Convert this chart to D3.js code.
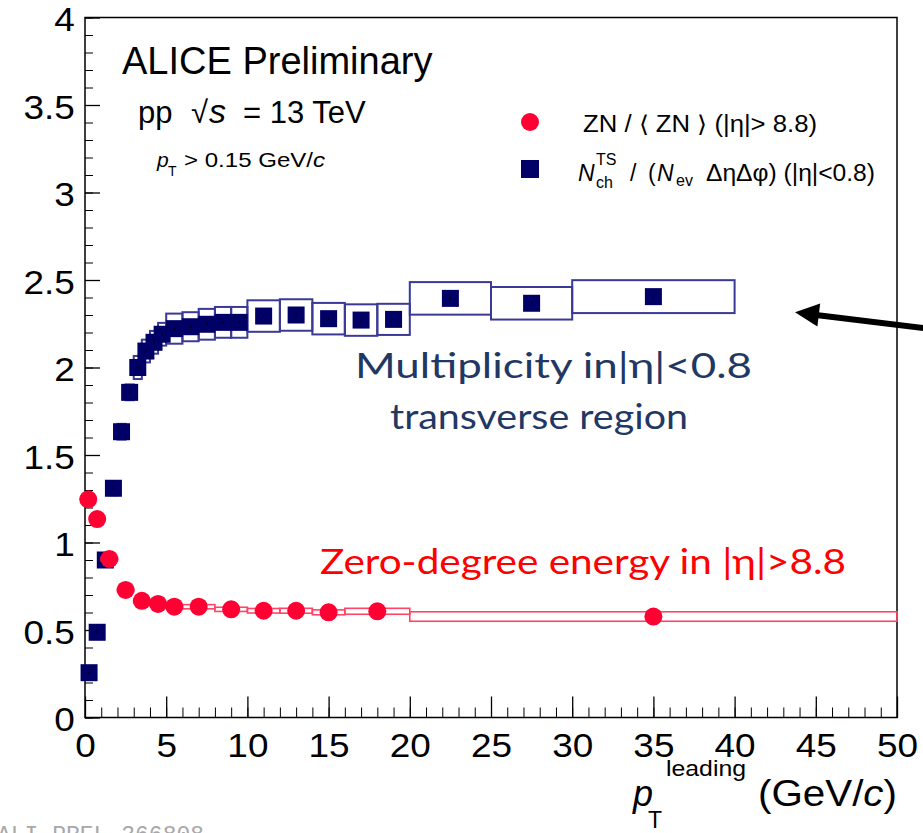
<!DOCTYPE html>
<html>
<head>
<meta charset="utf-8">
<script src="https://cdn.jsdelivr.net/npm/d3@7/dist/d3.min.js"></script>
<style>
  body { margin: 0; background: #fff; }
  svg { display: block; font-family: "Liberation Sans", Arial, sans-serif; }
</style>
</head>
<body>
<div id="chart"></div>
<script>
// ZN / <ZN>  (|eta| > 8.8), red circles
const znX   = [0.2, 0.75, 1.5, 2.5, 3.5, 4.5, 5.5, 7, 9, 11, 13, 15, 18, 35];
const znY   = [1.247, 1.134, 0.906, 0.729, 0.667, 0.649, 0.633, 0.633, 0.618, 0.61, 0.61, 0.601, 0.607, 0.577];
const znSys = [0.01, 0.01, 0.01, 0.01, 0.01, 0.01, 0.01, 0.012, 0.012, 0.013, 0.014, 0.014, 0.017, 0.027];
const znLo  = [0, 0.5, 1, 2, 3, 4, 5, 6, 8, 10, 12, 14, 16, 20];
const znHi  = [0.5, 1, 2, 3, 4, 5, 6, 8, 10, 12, 14, 16, 20, 50];

// Nch TS / (Nev deta dphi)  (|eta| < 0.8), navy squares
const nchX   = [0.25, 0.75, 1.25, 1.75, 2.25, 2.75, 3.25, 3.75, 4.25, 4.75, 5.5, 6.5, 7.5, 8.5, 9.5, 11, 13, 15, 17, 19, 22.5, 27.5, 35];
const nchY   = [0.256, 0.487, 0.90, 1.31, 1.633, 1.858, 2.00, 2.094, 2.144, 2.19, 2.222, 2.233, 2.247, 2.258, 2.258, 2.294, 2.30, 2.279, 2.271, 2.275, 2.395, 2.367, 2.405];
const nchSys = [0.01, 0.02, 0.03, 0.04, 0.045, 0.045, 0.066, 0.065, 0.065, 0.065, 0.086, 0.083, 0.088, 0.088, 0.088, 0.09, 0.09, 0.09, 0.09, 0.089, 0.093, 0.093, 0.094];
const nchLo  = [0, 0.5, 1, 1.5, 2, 2.5, 3, 3.5, 4, 4.5, 5, 6, 7, 8, 9, 10, 12, 14, 16, 18, 20, 25, 30];
const nchHi  = [0.5, 1, 1.5, 2, 2.5, 3, 3.5, 4, 4.5, 5, 6, 7, 8, 9, 10, 12, 14, 16, 18, 20, 25, 30, 40];

// tick labels
const xTicks = [0, 5, 10, 15, 20, 25, 30, 35, 40, 45, 50];
const yTicks = [0, 0.5, 1, 1.5, 2, 2.5, 3, 3.5, 4];

const margin = {top: 17.5, left: 85},
    width = 812,
    height = 700;

const red = "#ff0033", redBox = "#ff4466",
      navy = "#000066", navyBox = "#3a3a96";
const sx = 1.12; // ROOT text is a bit wide

const svg = d3.select("#chart")
  .append("svg")
    .attr("width", 923)
    .attr("height", 833);

const g = svg.append("g")
    .attr("transform", `translate(${margin.left},${margin.top})`);

const x = d3.scaleLinear().domain([0, 50]).range([0, width]);
const y = d3.scaleLinear().domain([0, 4]).range([height, 0]);

// frame
g.append("rect")
  .attr("width", width).attr("height", height)
  .attr("fill", "none").attr("stroke", "#000").attr("stroke-width", 1.5);

// minor ticks
g.append("g")
  .attr("transform", `translate(0,${height})`)
  .call(d3.axisBottom(x).tickValues(d3.range(0, 51, 1)).tickSize(-10).tickFormat(""))
  .call(a => a.select(".domain").remove());
g.append("g")
  .call(d3.axisLeft(y).tickValues(d3.range(0, 41, 1).map(d => d / 10)).tickSize(-8).tickFormat(""))
  .call(a => a.select(".domain").remove());

// major ticks + labels
const xAxis = g.append("g")
  .attr("transform", `translate(0,${height})`)
  .call(d3.axisBottom(x).tickValues(xTicks).tickSize(-21).tickPadding(16).tickFormat(d3.format("")))
  .call(a => a.select(".domain").remove());
const yAxis = g.append("g")
  .call(d3.axisLeft(y).tickValues(yTicks).tickSize(-15).tickPadding(9).tickFormat(d3.format("")))
  .call(a => a.select(".domain").remove());

[xAxis, yAxis].forEach(ax => {
  ax.selectAll("line").attr("stroke", "#000").attr("stroke-width", 1.3);
  ax.selectAll("text")
    .attr("fill", "#000")
    .style("font-family", "'Liberation Sans', Arial, sans-serif")
    .style("font-size", "33px")
    .attr("transform", `scale(${sx},1)`);
});
yAxis.selectAll("text").attr("dy", "0.4em");
g.selectAll(".tick line").attr("stroke", "#000");

// Nch boxes (systematics)
g.append("g")
  .selectAll("rect")
  .data(nchX.map((d, i) => i))
  .join("rect")
    .attr("x", i => x(nchLo[i]))
    .attr("width", i => x(nchHi[i]) - x(nchLo[i]))
    .attr("y", i => y(nchY[i] + nchSys[i]))
    .attr("height", i => y(nchY[i] - nchSys[i]) - y(nchY[i] + nchSys[i]))
    .attr("fill", "none")
    .attr("stroke", navyBox)
    .attr("stroke-width", 2);

// Nch markers
g.append("g")
  .selectAll("rect")
  .data(nchX.map((d, i) => i))
  .join("rect")
    .attr("x", i => x(nchX[i]) - 8.5)
    .attr("y", i => y(nchY[i]) - 8.5)
    .attr("width", 17)
    .attr("height", 17)
    .attr("fill", navy);

g.append("g")
  .selectAll("line")
  .data(nchX.map((d, i) => i))
  .join("line")
    .attr("x1", i => x(nchX[i])).attr("x2", i => x(nchX[i]))
    .attr("y1", i => y(nchY[i]) - 1.5).attr("y2", i => y(nchY[i]) + 1.5)
    .attr("stroke", "#000").attr("stroke-width", 1);

// ZN boxes
g.append("g")
  .selectAll("rect")
  .data(znX.map((d, i) => i))
  .join("rect")
    .attr("x", i => x(znLo[i]))
    .attr("width", i => x(znHi[i]) - x(znLo[i]))
    .attr("y", i => y(znY[i] + znSys[i]))
    .attr("height", i => y(znY[i] - znSys[i]) - y(znY[i] + znSys[i]))
    .attr("fill", "none")
    .attr("stroke", redBox)
    .attr("stroke-width", 1.6);

// ZN markers
g.append("g")
  .selectAll("circle")
  .data(znX.map((d, i) => i))
  .join("circle")
    .attr("cx", i => x(znX[i]))
    .attr("cy", i => y(znY[i]))
    .attr("r", 9)
    .attr("fill", red);

// header texts
svg.append("text")
  .attr("x", 122).attr("y", 74)
  .style("font-size", "38px")
  .text("ALICE Preliminary");

const pp = svg.append("text").attr("y", 123).style("font-size", "31px");
pp.append("tspan").attr("x", 138).text("pp");
pp.append("tspan").attr("x", 191).text("√");
pp.append("tspan").attr("x", 209).style("font-style", "italic").style("font-size", "34px").text("s");
pp.append("tspan").attr("x", 243).text("= 13 TeV");

svg.append("text").attr("x", 157).attr("y", 167)
  .style("font-size", "21px").style("font-style", "italic").text("p");
svg.append("text").attr("x", 168).attr("y", 176)
  .style("font-size", "14px").text("T");
const cut = svg.append("text").attr("x", 184).attr("y", 167)
  .style("font-size", "21px").attr("textLength", 141).attr("lengthAdjust", "spacingAndGlyphs");
cut.append("tspan").text("> 0.15 GeV/");
cut.append("tspan").style("font-style", "italic").text("c");

// legend
svg.append("circle").attr("cx", 530).attr("cy", 122).attr("r", 9).attr("fill", red);
svg.append("rect").attr("x", 521).attr("y", 160).attr("width", 18).attr("height", 18).attr("fill", navy);

svg.append("text").attr("x", 583).attr("y", 132)
  .style("font-size", "23px")
  .attr("textLength", 234).attr("lengthAdjust", "spacingAndGlyphs")
  .text("ZN / \u27E8 ZN \u27E9 (|η|> 8.8)");

svg.append("text").attr("x", 578).attr("y", 181)
  .style("font-size", "23px").style("font-style", "italic").text("N");
svg.append("text").attr("x", 596).attr("y", 165)
  .style("font-size", "16px").text("TS");
svg.append("text").attr("x", 596).attr("y", 188)
  .style("font-size", "16px").text("ch");
svg.append("text").attr("x", 630).attr("y", 181)
  .style("font-size", "23px").text("/");
svg.append("text").attr("x", 648).attr("y", 181)
  .style("font-size", "23px").text("(");
svg.append("text").attr("x", 657).attr("y", 181)
  .style("font-size", "23px").style("font-style", "italic").text("N");
svg.append("text").attr("x", 676).attr("y", 186)
  .style("font-size", "16px").text("ev");
svg.append("text").attr("x", 706).attr("y", 181)
  .style("font-size", "23px")
  .attr("textLength", 169).attr("lengthAdjust", "spacingAndGlyphs")
  .text("ΔηΔφ) (|η|<0.8)");

// x axis title
svg.append("text").attr("x", 633).attr("y", 806)
  .style("font-size", "36px").style("font-style", "italic").text("p");
svg.append("text").attr("x", 648).attr("y", 828)
  .style("font-size", "23px").text("T");
svg.append("text").attr("x", 666).attr("y", 776)
  .style("font-size", "22px")
  .attr("textLength", 80).attr("lengthAdjust", "spacingAndGlyphs")
  .text("leading");
const unit = svg.append("text").attr("x", 758).attr("y", 806)
  .style("font-size", "36px")
  .attr("textLength", 139).attr("lengthAdjust", "spacingAndGlyphs");
unit.append("tspan").text("(GeV/");
unit.append("tspan").style("font-style", "italic").text("c");
unit.append("tspan").text(")");

// slide annotations
svg.append("text").attr("x", 355).attr("y", 378)
  .style("font-family", "Lato, 'Open Sans', sans-serif").style("font-size", "34px")
  .attr("fill", "#1f3864")
  .attr("textLength", 397).attr("lengthAdjust", "spacingAndGlyphs")
  .text("Multiplicity in|η|<0.8");
svg.append("text").attr("x", 390).attr("y", 429)
  .style("font-family", "Lato, 'Open Sans', sans-serif").style("font-size", "34px")
  .attr("fill", "#1f3864")
  .attr("textLength", 298).attr("lengthAdjust", "spacingAndGlyphs")
  .text("transverse region");
svg.append("text").attr("x", 320).attr("y", 574)
  .style("font-family", "Lato, 'Open Sans', sans-serif").style("font-size", "35px")
  .attr("fill", "#ff0000")
  .attr("textLength", 526).attr("lengthAdjust", "spacingAndGlyphs")
  .text("Zero-degree energy in |η|>8.8");

// arrow
svg.append("line")
  .attr("x1", 935).attr("y1", 329.5).attr("x2", 812).attr("y2", 314.5)
  .attr("stroke", "#000").attr("stroke-width", 6);
svg.append("path")
  .attr("d", "M795,312.3 L820.2,303.6 L817.4,326.4 Z")
  .attr("fill", "#000");

// watermark
svg.append("text").attr("x", -3).attr("y", 842)
  .style("font-family", "'Liberation Mono', monospace").style("font-size", "23px")
  .attr("fill", "#a8a8a8")
  .text("ALI-PREL-366808");
</script>
</body>
</html>
